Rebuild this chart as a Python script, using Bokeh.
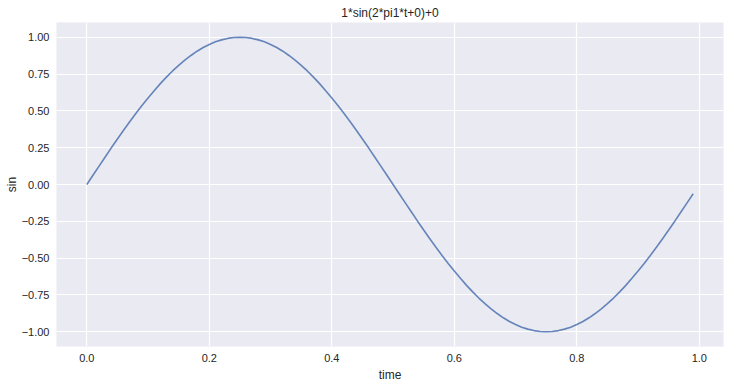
from bokeh.plotting import figure
from bokeh.models import FixedTicker, Range1d
from bokeh.embed import file_html
from bokeh.resources import INLINE

time = [0.00, 0.01, 0.02, 0.03, 0.04, 0.05, 0.06, 0.07, 0.08, 0.09,
        0.10, 0.11, 0.12, 0.13, 0.14, 0.15, 0.16, 0.17, 0.18, 0.19,
        0.20, 0.21, 0.22, 0.23, 0.24, 0.25, 0.26, 0.27, 0.28, 0.29,
        0.30, 0.31, 0.32, 0.33, 0.34, 0.35, 0.36, 0.37, 0.38, 0.39,
        0.40, 0.41, 0.42, 0.43, 0.44, 0.45, 0.46, 0.47, 0.48, 0.49,
        0.50, 0.51, 0.52, 0.53, 0.54, 0.55, 0.56, 0.57, 0.58, 0.59,
        0.60, 0.61, 0.62, 0.63, 0.64, 0.65, 0.66, 0.67, 0.68, 0.69,
        0.70, 0.71, 0.72, 0.73, 0.74, 0.75, 0.76, 0.77, 0.78, 0.79,
        0.80, 0.81, 0.82, 0.83, 0.84, 0.85, 0.86, 0.87, 0.88, 0.89,
        0.90, 0.91, 0.92, 0.93, 0.94, 0.95, 0.96, 0.97, 0.98, 0.99]

sin_values = [0.0, 0.063, 0.125, 0.187, 0.249, 0.309, 0.368, 0.426, 0.482, 0.536,
              0.588, 0.637, 0.685, 0.729, 0.771, 0.809, 0.844, 0.876, 0.905, 0.930,
              0.951, 0.969, 0.982, 0.992, 0.998, 1.0, 0.998, 0.992, 0.982, 0.969,
              0.951, 0.930, 0.905, 0.876, 0.844, 0.809, 0.771, 0.729, 0.685, 0.637,
              0.588, 0.536, 0.482, 0.426, 0.368, 0.309, 0.249, 0.187, 0.125, 0.063,
              0.0, -0.063, -0.125, -0.187, -0.249, -0.309, -0.368, -0.426, -0.482, -0.536,
              -0.588, -0.637, -0.685, -0.729, -0.771, -0.809, -0.844, -0.876, -0.905, -0.930,
              -0.951, -0.969, -0.982, -0.992, -0.998, -1.0, -0.998, -0.992, -0.982, -0.969,
              -0.951, -0.930, -0.905, -0.876, -0.844, -0.809, -0.771, -0.729, -0.685, -0.637,
              -0.588, -0.536, -0.482, -0.426, -0.368, -0.309, -0.249, -0.187, -0.125, -0.063]

x_ticks = [0.0, 0.2, 0.4, 0.6, 0.8, 1.0]
x_tick_labels = ["0.0", "0.2", "0.4", "0.6", "0.8", "1.0"]
y_ticks = [-1.0, -0.75, -0.5, -0.25, 0.0, 0.25, 0.5, 0.75, 1.0]
y_tick_labels = ["\u22121.00", "\u22120.75", "\u22120.50", "\u22120.25", "0.00", "0.25", "0.50", "0.75", "1.00"]

title_text = "1*sin(2*pi1*t+0)+0"

FONT = "Liberation Sans"
TXT = "#262626"

p = figure(width=731, height=384, output_backend="svg", toolbar_location=None,
           title=title_text,
           x_range=Range1d(-0.0495, 1.0395), y_range=Range1d(-1.1, 1.1),
           min_border_left=56, min_border_right=8, min_border_top=22, min_border_bottom=38)

p.background_fill_color = "#EAEAF2"
p.border_fill_color = "white"
p.outline_line_color = None

p.title.align = "center"
p.title.text_font = FONT
p.title.text_font_size = "12px"
p.title.text_font_style = "normal"
p.title.text_color = TXT
p.title.offset = 0
p.title.standoff = 5

p.line(time, sin_values, line_color="#4C72B0", line_alpha=0.85, line_width=1.6)

p.xaxis.ticker = FixedTicker(ticks=x_ticks)
p.xaxis.major_label_overrides = {t: l for t, l in zip(x_ticks, x_tick_labels)}
p.yaxis.ticker = FixedTicker(ticks=y_ticks)
p.yaxis.major_label_overrides = {t: l for t, l in zip(y_ticks, y_tick_labels)}
p.xaxis.axis_label = "time"
p.yaxis.axis_label = "sin"

for ax in (p.xaxis, p.yaxis):
    ax.axis_line_color = None
    ax.major_tick_line_color = None
    ax.minor_tick_line_color = None
    ax.major_tick_out = 0
    ax.major_tick_in = 0
    ax.major_label_text_font = FONT
    ax.major_label_text_font_size = "11px"
    ax.major_label_text_color = TXT
    ax.axis_label_text_font = FONT
    ax.axis_label_text_font_size = "12px"
    ax.axis_label_text_font_style = "normal"
    ax.axis_label_text_color = TXT

p.xaxis.major_label_standoff = 7
p.xaxis.axis_label_standoff = 3
p.yaxis.major_label_standoff = 7
p.yaxis.axis_label_standoff = 0

p.grid.grid_line_color = "white"
p.grid.grid_line_width = 1.2

open("out.html", "w").write(file_html(p, INLINE))
